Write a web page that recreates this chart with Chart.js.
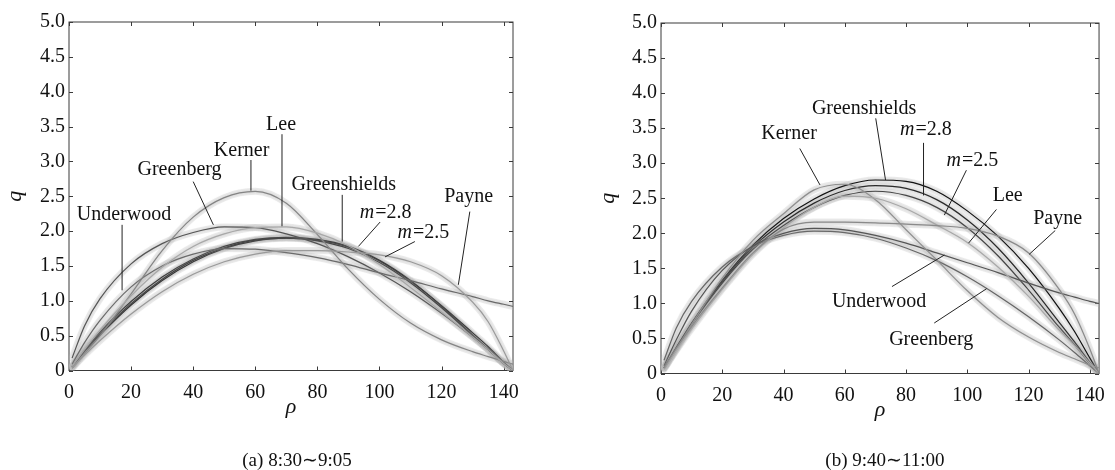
<!DOCTYPE html>
<html>
<head>
<meta charset="utf-8">
<script src="https://cdn.jsdelivr.net/npm/chart.js@4.4.0/dist/chart.umd.min.js"></script>
<style>
  body { margin: 0; background: #fff; width: 1115px; height: 470px; position: relative; overflow: hidden; }
  canvas { position: absolute; top: 0; }
  #chartA { left: 0; }
  #chartB { left: 593px; }
  .caption { position: absolute; top: 450px; line-height: 20px; font-family: "Liberation Serif", serif;
             font-size: 19px; color: #111; transform: translateX(-50%); white-space: nowrap; }
</style>
</head>
<body>
<canvas id="chartA" width="555" height="470"></canvas>
<canvas id="chartB" width="522" height="470"></canvas>
<div class="caption" style="left:297px">(a) 8:30∼9:05</div>
<div class="caption" style="left:885px">(b) 9:40∼11:00</div>
<script>
// density values shared by every curve
const rho = [1, 5, 10, 20, 30, 40, 50, 60, 70, 80, 90, 100, 110, 120, 130, 135, 140, 143];

// (a) 8:30~9:05
const greenshieldsA = [0.05, 0.27, 0.51, 0.94, 1.29, 1.56, 1.75, 1.86, 1.90, 1.87, 1.77, 1.57, 1.28, 0.93, 0.54, 0.34, 0.12, 0];
const m28A = [0.06, 0.29, 0.55, 0.99, 1.34, 1.60, 1.78, 1.88, 1.91, 1.88, 1.78, 1.58, 1.29, 0.92, 0.51, 0.31, 0.10, 0];
const m25A = [0.05, 0.28, 0.53, 0.96, 1.31, 1.58, 1.76, 1.87, 1.90, 1.86, 1.75, 1.55, 1.26, 0.90, 0.50, 0.30, 0.10, 0];
const greenbergA = [0.18, 0.64, 1.03, 1.53, 1.82, 1.98, 2.06, 2.05, 1.96, 1.82, 1.63, 1.40, 1.13, 0.82, 0.48, 0.30, 0.11, 0];
const underwoodA = [0.09, 0.40, 0.72, 1.20, 1.50, 1.67, 1.75, 1.74, 1.69, 1.62, 1.52, 1.40, 1.29, 1.17, 1.06, 1.00, 0.95, 0.92];
const kernerA = [0.03, 0.24, 0.50, 1.10, 1.72, 2.20, 2.48, 2.57, 2.40, 1.95, 1.45, 1.02, 0.68, 0.44, 0.27, 0.20, 0.13, 0.09];
const leeA = [0.06, 0.30, 0.58, 1.07, 1.48, 1.78, 1.96, 2.05, 2.06, 1.97, 1.79, 1.52, 1.19, 0.84, 0.48, 0.30, 0.10, 0];
const payneA = [0.04, 0.22, 0.43, 0.81, 1.13, 1.38, 1.56, 1.67, 1.72, 1.72, 1.70, 1.66, 1.56, 1.36, 0.98, 0.70, 0.28, 0];

// (b) 9:40~11:00
const greenshieldsB = [0.08, 0.37, 0.72, 1.33, 1.83, 2.21, 2.49, 2.68, 2.76, 2.74, 2.60, 2.32, 1.96, 1.50, 0.93, 0.60, 0.22, 0];
const m28B = [0.08, 0.37, 0.71, 1.31, 1.80, 2.16, 2.43, 2.61, 2.68, 2.64, 2.48, 2.19, 1.79, 1.29, 0.73, 0.45, 0.16, 0];
const m25B = [0.08, 0.36, 0.70, 1.29, 1.77, 2.11, 2.37, 2.54, 2.60, 2.54, 2.37, 2.08, 1.68, 1.19, 0.66, 0.41, 0.14, 0];
const kernerB = [0.06, 0.34, 0.70, 1.36, 1.90, 2.28, 2.62, 2.70, 2.48, 2.05, 1.62, 1.18, 0.80, 0.52, 0.30, 0.21, 0.12, 0.08];
const leeB = [0.07, 0.33, 0.64, 1.20, 1.70, 2.08, 2.37, 2.53, 2.50, 2.35, 2.12, 1.87, 1.52, 1.10, 0.62, 0.40, 0.15, 0];
const payneB = [0.08, 0.36, 0.67, 1.22, 1.72, 2.06, 2.16, 2.16, 2.15, 2.13, 2.11, 2.07, 1.96, 1.72, 1.20, 0.85, 0.35, 0];
const underwoodB = [0.11, 0.48, 0.89, 1.47, 1.82, 2.00, 2.07, 2.05, 1.97, 1.86, 1.72, 1.58, 1.44, 1.29, 1.15, 1.09, 1.03, 1.00];
const greenbergB = [0.19, 0.65, 1.03, 1.52, 1.81, 1.97, 2.03, 2.01, 1.93, 1.79, 1.61, 1.38, 1.11, 0.81, 0.48, 0.30, 0.11, 0];

const xTicks = [0, 20, 40, 60, 80, 100, 120, 140];
const yTicks = [0, 0.5, 1.0, 1.5, 2.0, 2.5, 3.0, 3.5, 4.0, 4.5, 5.0];

// callout labels: text, label centre, leader line (data units)
const notesA = [
  { text: "Lee", at: [68.3, 3.52], from: [68.6, 3.39], to: [68.6, 2.07] },
  { text: "Kerner", at: [55.6, 3.15], from: [58.6, 3.02], to: [58.6, 2.58] },
  { text: "Greenberg", at: [35.6, 2.88], from: [40, 2.71], to: [46.5, 2.09] },
  { text: "Underwood", at: [17.7, 2.23], from: [17.1, 2.09], to: [17.1, 1.15] },
  { text: "Greenshields", at: [88.5, 2.66], from: [88, 2.52], to: [88, 1.85] },
  { text: "=2.8", m: true, at: [101.8, 2.26], from: [100.2, 2.13], to: [93.2, 1.78] },
  { text: "=2.5", m: true, at: [114, 1.98], from: [111.4, 1.85], to: [101.8, 1.63] },
  { text: "Payne", at: [128.7, 2.49], from: [129.1, 2.28], to: [125.4, 1.23] }
];
const notesB = [
  { text: "Kerner", at: [41.8, 3.42], from: [45.3, 3.21], to: [51.9, 2.69] },
  { text: "Greenshields", at: [66.3, 3.78], from: [70.1, 3.64], to: [73.3, 2.76] },
  { text: "=2.8", m: true, at: [86.3, 3.48], from: [85.7, 3.29], to: [85.7, 2.54] },
  { text: "=2.5", m: true, at: [101.5, 3.04], from: [99.7, 2.9], to: [92.5, 2.26] },
  { text: "Lee", at: [113.2, 2.54], from: [109.5, 2.34], to: [100.4, 1.86] },
  { text: "Payne", at: [129.5, 2.21], from: [128.7, 2.04], to: [120.2, 1.70] },
  { text: "Underwood", at: [71.2, 1.02], from: [75.4, 1.24], to: [92.5, 1.69] },
  { text: "Greenberg", at: [88.2, 0.48], from: [89.2, 0.72], to: [106.3, 1.21] }
];

const SERIF = "\"Liberation Serif\"";

function series(label, values, color, width) {
  return {
    label: label,
    data: rho.map((r, i) => ({ x: r, y: values[i] })),
    borderColor: color,
    borderWidth: width || 1.2,
    pointRadius: 0,
    fill: false,
    cubicInterpolationMode: "monotone"
  };
}

// box round the plot with inward ticks on all sides
const framePlugin = {
  id: "frame",
  beforeDatasetsDraw(chart) {
    const { ctx, chartArea: a, scales: { x, y } } = chart;
    ctx.save();
    ctx.strokeStyle = "#3a3a3a";
    ctx.lineWidth = 1;
    ctx.strokeRect(a.left, a.top, a.width, a.height);
    ctx.beginPath();
    xTicks.forEach(v => {
      const px = Math.round(x.getPixelForValue(v)) + 0.5;
      ctx.moveTo(px, a.bottom); ctx.lineTo(px, a.bottom - 4);
      ctx.moveTo(px, a.top); ctx.lineTo(px, a.top + 4);
    });
    yTicks.forEach(v => {
      const py = Math.round(y.getPixelForValue(v)) + 0.5;
      ctx.moveTo(a.left, py); ctx.lineTo(a.left + 4, py);
      ctx.moveTo(a.right, py); ctx.lineTo(a.right - 4, py);
    });
    ctx.stroke();
    ctx.restore();
  }
};

// faint grey bands standing in for the scattered measurements round each fit
const hazePlugin = {
  id: "haze",
  beforeDatasetsDraw(chart) {
    const { ctx, chartArea: a } = chart;
    ctx.save();
    ctx.beginPath();
    ctx.rect(a.left, a.top, a.width, a.height);
    ctx.clip();
    ctx.lineJoin = "round";
    ctx.lineCap = "round";
    chart.data.datasets.forEach((ds, i) => {
      const line = chart.getDatasetMeta(i).dataset;
      if (!line) return;
      ctx.beginPath();
      line.path(ctx);
      ctx.strokeStyle = "rgba(185,185,185,0.28)";
      ctx.lineWidth = 7;
      ctx.stroke();
    });
    ctx.restore();
  },
  beforeDatasetDraw(chart) {
    const ctx = chart.ctx;
    ctx.save();
    ctx.shadowColor = "rgba(165,165,165,0.7)";
    ctx.shadowBlur = 3;
  },
  afterDatasetDraw(chart) {
    chart.ctx.restore();
  }
};

const notesPlugin = {
  id: "notes",
  afterDatasetsDraw(chart, args, opts) {
    const { ctx, scales: { x, y } } = chart;
    ctx.save();
    ctx.strokeStyle = "#222";
    ctx.lineWidth = 1;
    ctx.fillStyle = "#111";
    ctx.textBaseline = "middle";
    opts.items.forEach(n => {
      ctx.beginPath();
      ctx.moveTo(x.getPixelForValue(n.from[0]), y.getPixelForValue(n.from[1]));
      ctx.lineTo(x.getPixelForValue(n.to[0]), y.getPixelForValue(n.to[1]));
      ctx.stroke();
      const cx = x.getPixelForValue(n.at[0]);
      const cy = y.getPixelForValue(n.at[1]);
      if (n.m) {
        ctx.font = "italic 20px " + SERIF;
        const wm = ctx.measureText("m").width;
        ctx.font = "20px " + SERIF;
        const wr = ctx.measureText(n.text).width;
        const left = cx - (wm + wr) / 2;
        ctx.textAlign = "left";
        ctx.font = "italic 20px " + SERIF;
        ctx.fillText("m", left, cy);
        ctx.font = "20px " + SERIF;
        ctx.fillText(n.text, left + wm + 1, cy);
      } else {
        ctx.textAlign = "center";
        ctx.font = "20px " + SERIF;
        ctx.fillText(n.text, cx, cy);
      }
    });
    ctx.restore();
  }
};

function makeChart(id, datasets, notes, pad, yWidth) {
  const ctx = document.getElementById(id).getContext("2d");
  return new Chart(ctx, {
    type: "line",
    data: { datasets: datasets },
    options: {
      responsive: false,
      animation: false,
      layout: { padding: pad },
      plugins: {
        legend: { display: false },
        tooltip: { enabled: false },
        notes: { items: notes }
      },
      scales: {
        x: {
          type: "linear",
          min: 0,
          max: 143,
          grid: { display: false, drawTicks: false },
          border: { display: false },
          ticks: {
            stepSize: 20,
            includeBounds: false,
            maxRotation: 0,
            padding: 10,
            color: "#111",
            font: { family: SERIF, size: 20 }
          },
          title: {
            display: true,
            text: "ρ",
            color: "#111",
            padding: { top: 0, bottom: 0 },
            font: { family: SERIF, size: 22, style: "italic" }
          },
          afterFit: function (scale) { scale.height = 49.5; }
        },
        y: {
          min: 0,
          max: 5,
          grid: { display: false, drawTicks: false },
          border: { display: false },
          ticks: {
            stepSize: 0.5,
            padding: 4,
            color: "#111",
            font: { family: SERIF, size: 20 },
            callback: function (v) { return v === 0 ? "0" : v.toFixed(1); }
          },
          title: {
            display: true,
            text: "q",
            color: "#111",
            padding: { top: 2, bottom: 0 },
            font: { family: SERIF, size: 22, style: "italic" }
          },
          afterFit: function (scale) { scale.width = yWidth; }
        }
      }
    },
    plugins: [framePlugin, hazePlugin, notesPlugin]
  });
}

makeChart("chartA", [
  series("Payne", payneA, "#9a9a9a"),
  series("Lee", leeA, "#a8a8a8"),
  series("Kerner", kernerA, "#858585"),
  series("Underwood", underwoodA, "#6a6a6a"),
  series("Greenberg", greenbergA, "#555"),
  series("m=2.5", m25A, "#444"),
  series("m=2.8", m28A, "#333"),
  series("Greenshields", greenshieldsA, "#1a1a1a")
], notesA, { left: 0, top: 22, right: 42, bottom: 50 }, 69);

makeChart("chartB", [
  series("Payne", payneB, "#8a8a8a"),
  series("Lee", leeB, "#a8a8a8"),
  series("Kerner", kernerB, "#8f8f8f"),
  series("Underwood", underwoodB, "#555"),
  series("Greenberg", greenbergB, "#666"),
  series("m=2.5", m25B, "#444"),
  series("m=2.8", m28B, "#2a2a2a"),
  series("Greenshields", greenshieldsB, "#111")
], notesB, { left: 0, top: 23, right: 7, bottom: 47 }, 68);
</script>
</body>
</html>
